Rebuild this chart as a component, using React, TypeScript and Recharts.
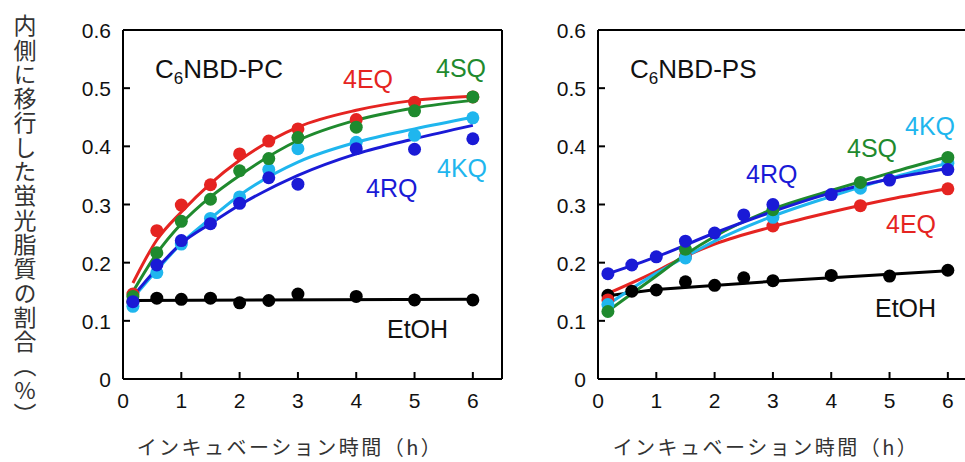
import React from "react";
import { ComposedChart, Line, Scatter, XAxis, YAxis, ReferenceLine } from "recharts";

// sampling times (h)
const times = [0.17, 0.58, 1, 1.5, 2, 2.5, 3, 4, 5, 6];
const timesPS = [0.17, 1.5, 3, 4.5, 6];

const xTicks = [0, 1, 2, 3, 4, 5, 6];
const yTicks = [0, 0.1, 0.2, 0.3, 0.4, 0.5, 0.6];

// C6NBD-PC measured points
const pcEtOH = [0.133, 0.139, 0.137, 0.139, 0.131, 0.135, 0.146, 0.142, 0.136, 0.136];
const pc4EQ = [0.146, 0.255, 0.299, 0.334, 0.387, 0.409, 0.43, 0.446, 0.476, 0.485];
const pc4SQ = [0.142, 0.217, 0.271, 0.309, 0.358, 0.379, 0.415, 0.433, 0.461, 0.485];
const pc4KQ = [0.125, 0.183, 0.232, 0.276, 0.313, 0.36, 0.396, 0.407, 0.419, 0.449];
const pc4RQ = [0.133, 0.196, 0.238, 0.267, 0.302, 0.346, 0.335, 0.396, 0.395, 0.413];

// C6NBD-PC fitted curves
const pcFitX = [0.17, 0.58, 1, 1.5, 2, 3, 4, 5, 6];
const pcFit4EQ = [0.165, 0.239, 0.287, 0.336, 0.376, 0.433, 0.462, 0.479, 0.486];
const pcFit4SQ = [0.15, 0.216, 0.267, 0.313, 0.35, 0.41, 0.445, 0.466, 0.479];
const pcFit4KQ = [0.139, 0.187, 0.233, 0.276, 0.316, 0.373, 0.407, 0.43, 0.45];
const pcFit4RQ = [0.142, 0.19, 0.233, 0.267, 0.299, 0.35, 0.387, 0.413, 0.436];
const pcFitEtOHX = [0.17, 6];
const pcFitEtOH = [0.135, 0.137];

// C6NBD-PS measured points
const psEtOH = [0.144, 0.151, 0.153, 0.167, 0.161, 0.174, 0.169, 0.178, 0.177, 0.187];
const ps4RQ = [0.181, 0.196, 0.21, 0.237, 0.251, 0.282, 0.3, 0.317, 0.342, 0.36];
const ps4SQ = [0.116, 0.223, 0.291, 0.338, 0.381];
const ps4KQ = [0.128, 0.208, 0.278, 0.328, 0.371];
const ps4EQ = [0.136, 0.211, 0.263, 0.298, 0.327];

// C6NBD-PS fitted curves
const psFitX = [0.17, 1, 1.5, 2, 3, 4, 5, 6];
const psFit4SQ = [0.117, 0.177, 0.214, 0.245, 0.292, 0.324, 0.354, 0.382];
const psFit4KQ = [0.128, 0.182, 0.21, 0.237, 0.28, 0.314, 0.345, 0.371];
const psFit4EQ = [0.147, 0.185, 0.211, 0.232, 0.262, 0.287, 0.309, 0.327];
const psFit4RQX = [0.17, 1, 2, 3, 4, 5, 6];
const psFit4RQ = [0.181, 0.21, 0.251, 0.288, 0.32, 0.344, 0.362];
const psFitEtOHX = [0.17, 1, 3, 6];
const psFitEtOH = [0.143, 0.154, 0.168, 0.186];

const RED = "#e52421";
const GREEN = "#1f8a2e";
const LIGHT = "#1fb6ee";
const BLUE = "#1a1ad6";
const BLACK = "#000";

const LATIN = "'Liberation Sans', Arial, sans-serif";
const CJK = "'Noto Sans CJK JP', 'Noto Sans', sans-serif";

const zip = (xs: number[], ys: number[]) => xs.map((x, i) => ({ x, y: ys[i] }));

const AXIS_W = 123;
const TOP = 30;
const H = 462;
const PLOT_BOTTOM = 379;

const XTick = (p: any) => (
  <g>
    <line x1={p.x} x2={p.x} y1={PLOT_BOTTOM} y2={PLOT_BOTTOM - 7} stroke="#000" strokeWidth={2} />
    <text x={p.x} y={408} textAnchor="middle" fontSize={21} fontFamily={LATIN} fill="#111">
      {p.payload.value}
    </text>
  </g>
);

const YTick = (p: any) => (
  <g>
    <line x1={AXIS_W} x2={AXIS_W + 7} y1={p.y} y2={p.y} stroke="#000" strokeWidth={2} />
    <text x={AXIS_W - 12} y={p.y + 8} textAnchor="end" fontSize={21} fontFamily={LATIN} fill="#111">
      {p.payload.value}
    </text>
  </g>
);

const dot = (color: string) => (p: any) => <circle cx={p.cx} cy={p.cy} r={6.5} fill={color} />;

type Series = { color: string; fit: { x: number; y: number }[]; pts: { x: number; y: number }[]; curve: "monotone" | "linear" };

function Panel({ series }: { series: Series[] }) {
  return (
    <ComposedChart width={504} height={H} margin={{ top: TOP, right: 2, left: 0, bottom: 0 }}>
      <XAxis
        type="number"
        dataKey="x"
        domain={[0, 6.5]}
        ticks={xTicks}
        tickLine={false}
        tick={XTick}
        height={H - PLOT_BOTTOM}
        axisLine={{ stroke: "#000", strokeWidth: 2 }}
        allowDataOverflow
      />
      <YAxis
        type="number"
        dataKey="y"
        domain={[0, 0.6]}
        ticks={yTicks}
        tickLine={false}
        tick={YTick}
        width={AXIS_W}
        axisLine={{ stroke: "#000", strokeWidth: 2 }}
        allowDataOverflow
      />
      <ReferenceLine y={0.6} stroke="#000" strokeWidth={2} />
      <ReferenceLine x={6.5} stroke="#000" strokeWidth={2} />
      {series.map((s, i) => (
        <Line
          key={"l" + i}
          data={s.fit}
          dataKey="y"
          type={s.curve}
          stroke={s.color}
          strokeWidth={3}
          dot={false}
          activeDot={false}
          isAnimationActive={false}
        />
      ))}
      {series.map((s, i) => (
        <Scatter key={"s" + i} data={s.pts} dataKey="y" fill={s.color} shape={dot(s.color)} isAnimationActive={false} />
      ))}
    </ComposedChart>
  );
}

const pcSeries: Series[] = [
  { color: BLACK, fit: zip(pcFitEtOHX, pcFitEtOH), pts: zip(times, pcEtOH), curve: "linear" },
  { color: RED, fit: zip(pcFitX, pcFit4EQ), pts: zip(times, pc4EQ), curve: "monotone" },
  { color: LIGHT, fit: zip(pcFitX, pcFit4KQ), pts: zip(times, pc4KQ), curve: "monotone" },
  { color: GREEN, fit: zip(pcFitX, pcFit4SQ), pts: zip(times, pc4SQ), curve: "monotone" },
  { color: BLUE, fit: zip(pcFitX, pcFit4RQ), pts: zip(times, pc4RQ), curve: "monotone" },
];

const psSeries: Series[] = [
  { color: BLACK, fit: zip(psFitEtOHX, psFitEtOH), pts: zip(times, psEtOH), curve: "linear" },
  { color: RED, fit: zip(psFitX, psFit4EQ), pts: zip(timesPS, ps4EQ), curve: "monotone" },
  { color: LIGHT, fit: zip(psFitX, psFit4KQ), pts: zip(timesPS, ps4KQ), curve: "monotone" },
  { color: GREEN, fit: zip(psFitX, psFit4SQ), pts: zip(timesPS, ps4SQ), curve: "monotone" },
  { color: BLUE, fit: zip(psFit4RQX, psFit4RQ), pts: zip(times, ps4RQ), curve: "monotone" },
];

const lbl = { fontSize: 25, fontFamily: LATIN } as const;

export default function App() {
  return (
    <div style={{ position: "absolute", left: 0, top: 0, width: 965, height: H, overflow: "hidden", background: "#fff" }}>
      <div style={{ position: "absolute", left: 0, top: 0 }}>
        <Panel series={pcSeries} />
      </div>
      <div style={{ position: "absolute", left: 598 - AXIS_W, top: 0 }}>
        <Panel series={psSeries} />
      </div>
      <div
        style={{
          position: "absolute",
          left: 13,
          top: 14,
          writingMode: "vertical-rl",
          textOrientation: "upright",
          fontFamily: CJK,
          fontSize: 23,
          letterSpacing: 1.3,
          color: "#333",
          lineHeight: "24px",
        }}
      >
        内側に移行した蛍光脂質の割合（%）
      </div>
      <svg width={965} height={H} style={{ position: "absolute", left: 0, top: 0, pointerEvents: "none" }}>
        <text x={155} y={78} fontSize={26} fontFamily={LATIN} fill="#111">
          C<tspan fontSize={17} dy={6}>6</tspan>
          <tspan dy={-6}>NBD-PC</tspan>
        </text>
        <text x={343} y={88} {...lbl} fill={RED}>4EQ</text>
        <text x={436} y={77} {...lbl} fill={GREEN}>4SQ</text>
        <text x={437} y={177} {...lbl} fill={LIGHT}>4KQ</text>
        <text x={366} y={197} {...lbl} fill={BLUE}>4RQ</text>
        <text x={387} y={338} {...lbl} fill="#111">EtOH</text>

        <text x={630} y={78} fontSize={26} fontFamily={LATIN} fill="#111">
          C<tspan fontSize={17} dy={6}>6</tspan>
          <tspan dy={-6}>NBD-PS</tspan>
        </text>
        <text x={746} y={183} {...lbl} fill={BLUE}>4RQ</text>
        <text x={847} y={157} {...lbl} fill={GREEN}>4SQ</text>
        <text x={905} y={135} {...lbl} fill={LIGHT}>4KQ</text>
        <text x={886} y={233} {...lbl} fill={RED}>4EQ</text>
        <text x={875} y={317} {...lbl} fill="#111">EtOH</text>

        <text x={290} y={455} textAnchor="middle" fontSize={20} letterSpacing={2.5} fontFamily={CJK} fill="#333">
          インキュベーション時間（h）
        </text>
        <text x={766} y={455} textAnchor="middle" fontSize={20} letterSpacing={2.5} fontFamily={CJK} fill="#333">
          インキュベーション時間（h）
        </text>
      </svg>
    </div>
  );
}
